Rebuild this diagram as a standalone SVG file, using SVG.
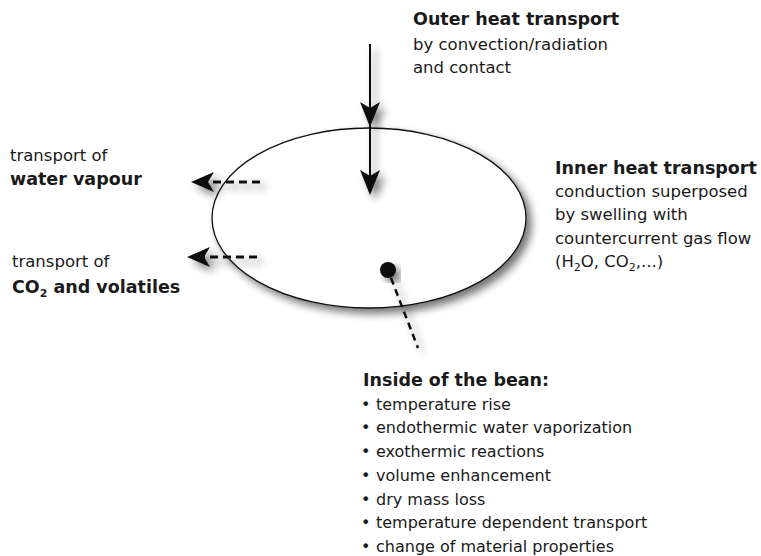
<svg xmlns="http://www.w3.org/2000/svg" width="761" height="556" viewBox="0 0 761 556">
  <style>
    text { font-family: "DejaVu Sans", "Liberation Sans", sans-serif; fill: #1a1a1a; }
    .b { font-weight: bold; font-size: 17.5px; }
    .r { font-size: 16.5px; }
    .li { font-size: 16px; }
    .sub { font-size: 11px; }
    .line { stroke: #111; stroke-width: 2; fill: none; }
    .dash { stroke: #111; stroke-width: 3; fill: none; stroke-dasharray: 8 5; }
    .dot { stroke: #111; stroke-width: 2.5; fill: none; stroke-dasharray: 7 5; }
    .head { fill: #111; stroke: none; }
  </style>
  <defs>
    <filter id="shadow" x="-20%" y="-20%" width="150%" height="150%">
      <feGaussianBlur in="SourceAlpha" stdDeviation="4"/>
      <feOffset dx="5" dy="5" result="off"/>
      <feComponentTransfer>
        <feFuncA type="linear" slope="0.55"/>
      </feComponentTransfer>
      <feMerge>
        <feMergeNode/>
        <feMergeNode in="SourceGraphic"/>
      </feMerge>
    </filter>
  </defs>

  <rect width="761" height="556" fill="#ffffff"/>

  <!-- the bean -->
  <g id="bean">
    <ellipse cx="369" cy="218" rx="157" ry="90" fill="#ffffff" stroke="#111" stroke-width="1.3" filter="url(#shadow)"/>
    <circle cx="388" cy="270" r="8" fill="#111" filter="url(#shadow)"/>
  </g>

  <!-- connectors -->
  <g id="connectors" filter="url(#shadow)">
    <!-- outer heat flow into the bean -->
    <path class="line" d="M370 44 V188"/>
    <path class="head" d="M370 127 L360 102 L370 108 L380 102 Z"/>
    <path class="head" d="M370 195 L360 170 L370 176 L380 170 Z"/>
    <!-- water vapour leaving -->
    <path class="dash" d="M260 182 H208"/>
    <path class="head" d="M191 182 L214 172 L208 182 L214 192 Z"/>
    <!-- CO2 and volatiles leaving -->
    <path class="dash" d="M257 257 H204"/>
    <path class="head" d="M187 257 L210 247 L204 257 L210 267 Z"/>
    <!-- pointer from the bean interior -->
    <path class="dot" d="M391 278 L418 348"/>
  </g>

  <g id="outer-label">
    <text class="b" x="413" y="25">Outer heat transport</text>
    <text class="r" x="413" y="50">by convection/radiation</text>
    <text class="r" x="413" y="73">and contact</text>
  </g>

  <g id="water-label">
    <text class="r" x="10" y="161">transport of</text>
    <text class="b" x="10" y="185">water vapour</text>
  </g>

  <g id="co2-label">
    <text class="r" x="12" y="267">transport of</text>
    <text class="b" x="12" y="293">CO<tspan class="sub" dy="4">2</tspan><tspan dy="-4"> and volatiles</tspan></text>
  </g>

  <g id="inner-label">
    <text class="b" x="555" y="174">Inner heat transport</text>
    <text class="r" x="555" y="197">conduction superposed</text>
    <text class="r" x="555" y="220">by swelling with</text>
    <text class="r" x="555" y="244">countercurrent gas flow</text>
    <text class="r" x="555" y="267">(H<tspan class="sub" dy="4">2</tspan><tspan dy="-4">O, CO</tspan><tspan class="sub" dy="4">2</tspan><tspan dy="-4">,...)</tspan></text>
  </g>

  <g id="inside-label">
    <text class="b" x="363" y="386">Inside of the bean:</text>
    <text class="li" y="409.7"><tspan x="361">•</tspan><tspan x="376">temperature rise</tspan></text>
    <text class="li" y="433.4"><tspan x="361">•</tspan><tspan x="376">endothermic water vaporization</tspan></text>
    <text class="li" y="457.1"><tspan x="361">•</tspan><tspan x="376">exothermic reactions</tspan></text>
    <text class="li" y="480.8"><tspan x="361">•</tspan><tspan x="376">volume enhancement</tspan></text>
    <text class="li" y="504.5"><tspan x="361">•</tspan><tspan x="376">dry mass loss</tspan></text>
    <text class="li" y="528.2"><tspan x="361">•</tspan><tspan x="376">temperature dependent transport</tspan></text>
    <text class="li" y="551.9"><tspan x="361">•</tspan><tspan x="376">change of material properties</tspan></text>
  </g>
</svg>
